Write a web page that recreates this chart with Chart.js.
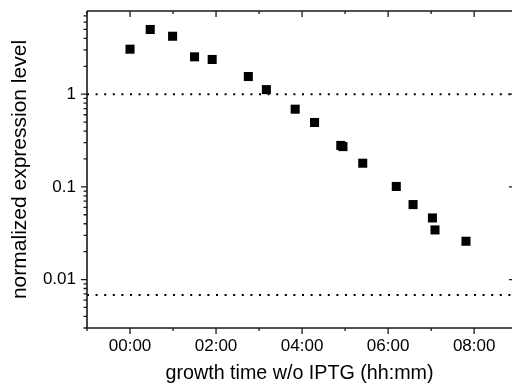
<!DOCTYPE html>
<html><head><meta charset="utf-8">
<script src="https://cdn.jsdelivr.net/npm/chart.js@4/dist/chart.umd.min.js"></script>
<style>html,body{margin:0;padding:0;background:#fff;} #wrap{width:512px;height:392px;}</style>
</head><body><div id="wrap"><canvas id="c" width="512" height="392"></canvas></div>
<script>
// ---- data ----
const timeHours = [0, 0.47, 0.99, 1.50, 1.91, 2.75, 3.17, 3.84, 4.29, 4.90, 4.95, 5.41, 6.19, 6.58, 7.03, 7.09, 7.81];
const expression = [3.06, 4.99, 4.22, 2.53, 2.37, 1.55, 1.12, 0.689, 0.495, 0.280, 0.272, 0.180, 0.101, 0.0644, 0.0462, 0.0343, 0.0259];
const referenceLevels = [1, 0.0068];
const xTickHours = [0, 2, 4, 6, 8];
const xMinorHours = [-1, 1, 3, 5, 7];
const yTickValues = [0.01, 0.1, 1];
const yTickLabels = ['0.01', '0.1', '1'];
const xRange = [-1, 8.88];
const yRange = [0.003, 7.9];
const xTitle = 'growth time w/o IPTG (hh:mm)';
const yTitle = 'normalized expression level';

const FONT = "'Liberation Sans', Arial, sans-serif";

function hhmm(h) {
  const m = Math.round(h * 60);
  const hh = Math.floor(m / 60), mm = m % 60;
  return String(hh).padStart(2, '0') + ':' + String(mm).padStart(2, '0');
}

const yMinorValues = [];
for (let e = -3; e <= 0; e++) {
  for (let k = 2; k <= 9; k++) {
    const v = k * Math.pow(10, e);
    if (v >= yRange[0] && v <= yRange[1]) yMinorValues.push(v);
  }
}

const framePlugin = {
  id: 'frame',
  afterDatasetsDraw(chart) {
    const {ctx, chartArea: a, scales: {x, y}} = chart;
    ctx.save();
    ctx.strokeStyle = '#1a1a1a';
    ctx.lineWidth = 1.6;
    ctx.beginPath();
    ctx.moveTo(a.left, a.top); ctx.lineTo(a.right + 2, a.top);
    ctx.moveTo(a.left, a.top); ctx.lineTo(a.left, a.bottom);
    ctx.moveTo(a.left, a.bottom); ctx.lineTo(a.right + 2, a.bottom);
    ctx.stroke();
    ctx.lineWidth = 1.3;
    ctx.beginPath();
    yTickValues.forEach(v => {
      const p = y.getPixelForValue(v);
      ctx.moveTo(a.left - 6, p); ctx.lineTo(a.left, p);
      ctx.moveTo(a.right - 3, p); ctx.lineTo(a.right, p);
    });
    yMinorValues.forEach(v => {
      const p = y.getPixelForValue(v);
      ctx.moveTo(a.left - 3.5, p); ctx.lineTo(a.left, p);
    });
    xTickHours.forEach(v => {
      const p = x.getPixelForValue(v);
      ctx.moveTo(p, a.bottom); ctx.lineTo(p, a.bottom + 6);
      ctx.moveTo(p, a.top); ctx.lineTo(p, a.top + 6);
    });
    xMinorHours.forEach(v => {
      const p = x.getPixelForValue(v);
      ctx.moveTo(p, a.bottom); ctx.lineTo(p, a.bottom + 3);
      ctx.moveTo(p, a.top); ctx.lineTo(p, a.top + 3);
    });
    ctx.stroke();
    ctx.restore();
  }
};

const datasets = [{
  type: 'scatter',
  data: timeHours.map((t, i) => ({x: t, y: expression[i]})),
  pointStyle: 'rect',
  pointRadius: 6.4,
  pointHoverRadius: 6.4,
  backgroundColor: '#000',
  borderColor: '#000',
  borderWidth: 0,
  order: 0
}];
referenceLevels.forEach(L => {
  datasets.push({
    type: 'line',
    data: [{x: xRange[0], y: L}, {x: xRange[1], y: L}],
    borderColor: '#000',
    borderWidth: 2,
    borderDash: [2, 6.6],
    pointRadius: 0,
    fill: false,
    order: 1
  });
});

new Chart(document.getElementById('c'), {
  data: {datasets},
  options: {
    responsive: false,
    animation: false,
    devicePixelRatio: 1,
    layout: {autoPadding: false, padding: {top: 11, right: 0, left: 0, bottom: 0}},
    plugins: {legend: {display: false}, tooltip: {enabled: false}},
    scales: {
      x: {
        type: 'linear',
        min: xRange[0], max: xRange[1],
        afterBuildTicks: s => { s.ticks = xTickHours.map(v => ({value: v})); },
        afterFit: s => { s.height = 64; s.paddingLeft = 0; s.paddingRight = 0; s.paddingTop = 0; s.paddingBottom = 0; },
        grid: {display: false, drawTicks: false},
        border: {display: false},
        ticks: {
          callback: v => hhmm(v),
          font: {family: FONT, size: 17},
          color: '#000',
          padding: 8,
          maxRotation: 0,
          autoSkip: false
        },
        title: {
          display: true, text: xTitle,
          font: {family: FONT, size: 19.7},
          color: '#000',
          padding: {top: 0, bottom: 7}
        }
      },
      y: {
        type: 'logarithmic',
        min: yRange[0], max: yRange[1],
        afterBuildTicks: s => { s.ticks = yTickValues.map(v => ({value: v})); },
        afterFit: s => { s.width = 87; s.paddingLeft = 0; s.paddingRight = 0; s.paddingTop = 0; s.paddingBottom = 0; },
        grid: {display: false, drawTicks: false},
        border: {display: false},
        ticks: {
          callback: v => { const i = yTickValues.findIndex(t => Math.abs(t - v) / t < 1e-6); return i >= 0 ? yTickLabels[i] : ''; },
          font: {family: FONT, size: 17},
          color: '#000',
          padding: 11,
          autoSkip: false
        },
        title: {
          display: true, text: yTitle,
          font: {family: FONT, size: 21},
          color: '#000',
          padding: {top: 8, bottom: 0}
        }
      }
    }
  },
  plugins: [framePlugin]
});
</script>
</body></html>
